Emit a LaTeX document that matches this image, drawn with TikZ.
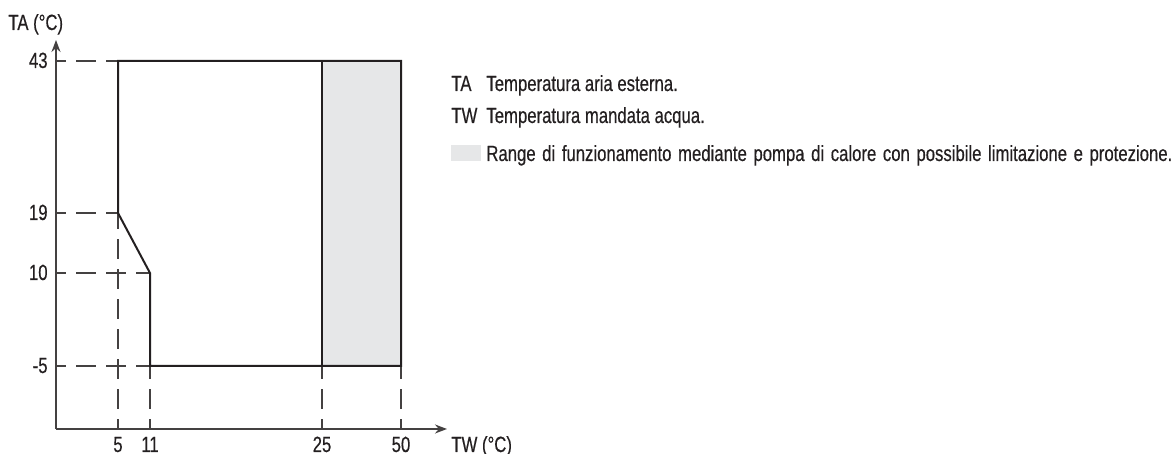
\documentclass[tikz,border=0pt]{standalone}
\usepackage{fontspec}
\setmainfont{Liberation Sans}[FakeStretch=0.76,FakeBold=0.4]
\usetikzlibrary{arrows.meta}
\definecolor{ink}{HTML}{231F20}
\definecolor{rangegray}{HTML}{E6E7E8}

\begin{document}
\begin{tikzpicture}[x=0.5pt,y=0.5pt,font=\fontsize{11}{13}\selectfont,
  every node/.style={inner sep=0pt,text=ink},
  axis/.style={line width=0.9pt,color=ink!85},
  guide/.style={line width=0.7pt,color=ink!85,dash pattern=on 10pt off 5pt,dash phase=5pt},
  limit/.style={line width=1pt,color=ink,line join=miter}]
\useasboundingbox (0,0) rectangle (1175,454);
% range with limitation
\fill[rangegray] (322,88) rectangle (401,393);
% guide lines
\draw[guide] (56,393) -- (118,393);
\draw[guide] (56,241) -- (118,241);
\draw[guide] (56,181) -- (150,181);
\draw[guide] (56,88) -- (150,88);
\draw[guide] (118,25) -- (118,241);
\draw[guide] (150,25) -- (150,88);
\draw[guide] (322,25) -- (322,88);
\draw[guide] (401,25) -- (401,88);
% axes
\draw[axis,-{Stealth[length=6pt,width=4.5pt]}] (56,25) -- (56,414);
\draw[axis,-{Stealth[length=6pt,width=4.5pt]}] (56,25) -- (447,25);
\node[anchor=base west] (ta) at (8,424) {TA (°C)};
\node[anchor=base west] (tw) at (451,2) {TW (°C)};
% tick labels
\node[anchor=base east] (t43) at (48,386) {43};
\node[anchor=base east] (t19) at (48,234) {19};
\node[anchor=base east] (t10) at (48,174) {10};
\node[anchor=base east] (tm5) at (48,81) {-5};
\node[anchor=base] (w5) at (118,2) {5};
\node[anchor=base] (w11) at (150,2) {11};
\node[anchor=base] (w25) at (322,2) {25};
\node[anchor=base] (w50) at (401,2) {50};
% operating limits
\draw[limit] (118,393) -- (401,393) -- (401,88) -- (150,88) -- (150,181) -- (118,241) -- cycle;
\draw[limit] (322,393) -- (322,88);
% legend
\node[anchor=base west] (lta) at (451,363) {TA};
\node[anchor=base west] (ltatext) at (486,363) {Temperatura aria esterna.};
\node[anchor=base west] (ltw) at (451,331) {TW};
\node[anchor=base west] (ltwtext) at (486,331) {Temperatura mandata acqua.};
\fill[rangegray] (451,293) rectangle (481,309);
\node[anchor=base west] (lrange) at (486,293) {\makebox[343pt][s]{Range di funzionamento mediante pompa di calore con possibile limitazione e protezione.}};
\end{tikzpicture}
\end{document}
